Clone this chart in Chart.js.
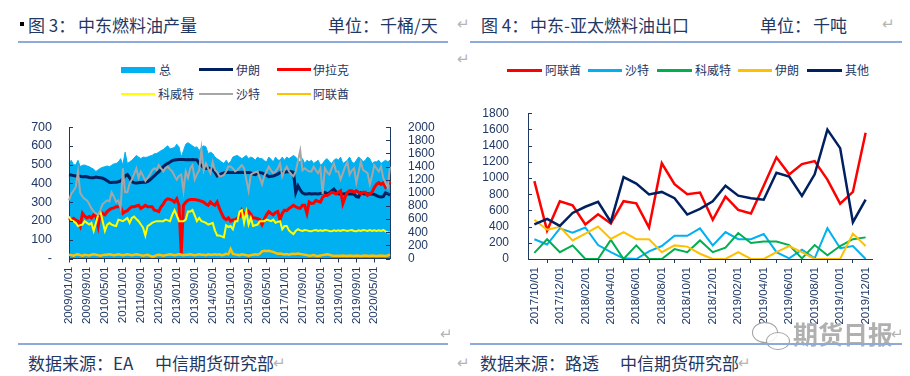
<!DOCTYPE html>
<html><head><meta charset="utf-8">
<script src="https://cdn.jsdelivr.net/npm/chart.js@4.4.0/dist/chart.umd.min.js"></script>
<style>
body{margin:0;width:910px;height:376px;background:#fff;position:relative;overflow:hidden;font-family:"Noto Sans CJK SC","Liberation Sans",sans-serif;color:#1F3864;}
.a{position:absolute;white-space:nowrap;}
.t{font-size:17px;line-height:20px;}
.rule{position:absolute;height:2px;background:#8EAADB;}
.pm{color:#b4b4b4;font-size:15px;line-height:20px;}
.lg{position:absolute;font-size:12px;line-height:16px;white-space:nowrap;}
.sw{position:absolute;}
canvas{position:absolute;}
.bub{position:absolute;border:1.5px solid #a0a0a0;border-radius:50%;background:rgba(255,255,255,0.85);}
</style></head>
<body>
<script>
// ---------- DATA ----------
function makeMonths(y, m, n){const out=[];for(let k=0;k<n;k++){const mm=m-1+k;const yy=y+Math.floor(mm/12);const mo=(mm%12)+1;out.push(yy+'/'+(mo<10?'0':'')+mo+'/01');}return out;}
const prodMonths = makeMonths(2009,1,144);
const prodSeriesNames = ['总','伊朗','伊拉克','科威特','沙特','阿联酋'];
const prodTotal = [
1447,1496,1430,1423,1496,1398,1420,1423,1410,1398,1380,1360,
1325,1350,1374,1390,1398,1410,1398,1420,1440,1447,1470,1521,
1423,1619,1447,1470,1496,1530,1570,1545,1521,1545,1540,1545,
1560,1570,1594,1600,1619,1643,1660,1692,1716,1667,1680,1692,
1741,1700,1545,1643,1741,1765,1740,1716,1692,1700,1643,1692,
1716,1700,1594,1619,1600,1545,1520,1496,1470,1447,1496,1447,
1472,1545,1560,1570,1545,1521,1545,1570,1521,1545,1530,1496,
1545,1521,1521,1490,1472,1545,1510,1472,1545,1500,1496,1545,
1496,1545,1520,1545,1570,1545,1496,1472,1521,1447,1496,1472,
1496,1447,1472,1496,1423,1447,1496,1521,1472,1447,1496,1521,
1496,1545,1447,1470,1496,1545,1472,1447,1496,1545,1521,1472,
1496,1545,1521,1447,1472,1472,1496,1447,1472,1496,1472,1496];
const prodIran = [
447,445,442,440,438,438,436,437,436,432,430,431,
434,432,430,428,422,414,406,405,406,407,409,414,
425,440,448,430,410,404,403,404,405,406,407,410,
418,430,440,452,462,475,490,500,507,515,522,525,
527,528,528,528,527,528,527,528,527,526,505,495,
485,480,482,480,475,460,440,445,452,456,458,460,
459,459,460,458,459,460,459,458,459,456,450,447,
455,458,456,450,445,436,438,440,445,450,458,460,
460,462,464,463,460,353,387,365,350,344,344,346,
344,345,345,344,346,350,353,345,350,360,370,355,
345,344,344,345,345,344,344,343,330,328,350,345,
344,345,344,344,342,335,330,328,330,350,345,338];
const prodIraq = [
216,207,214,205,199,173,241,225,216,224,216,233,
225,173,250,240,233,250,260,267,270,276,276,276,
241,250,255,267,276,276,280,284,267,275,284,276,
276,276,258,255,250,276,290,310,318,315,310,301,
318,284,27,284,300,310,315,315,315,312,310,305,
301,290,284,301,290,284,301,267,240,216,207,216,
199,205,207,215,224,258,240,233,250,235,216,216,
212,207,181,210,233,250,240,233,245,250,207,241,
258,255,267,275,284,276,270,267,284,284,241,301,
293,295,310,305,301,327,336,336,344,353,350,344,
353,361,293,327,353,361,361,353,361,353,344,353,
353,336,345,353,378,395,404,395,404,380,395,412];
const prodKuwait = [
224,205,199,190,173,178,181,199,190,181,190,147,
190,233,250,199,147,180,190,181,176,173,207,203,
199,207,216,190,216,224,210,199,181,164,122,173,
180,190,195,199,199,199,199,207,203,199,233,258,
230,199,199,199,207,250,250,258,230,199,216,199,
195,190,181,185,190,150,122,122,118,113,177,168,
173,156,199,199,250,258,190,250,181,216,173,177,
181,199,199,199,207,203,199,207,190,195,199,156,
173,173,150,139,130,147,156,150,147,152,150,147,
145,150,152,147,150,147,152,150,147,145,150,147,
150,147,152,150,147,150,152,147,145,150,147,152,
150,147,152,147,150,147,150,147,152,145,139,139];
const prodSaudi = [
310,345,361,380,464,350,330,318,310,290,267,250,
240,233,260,290,300,310,305,353,330,301,310,267,
481,353,353,400,421,450,481,430,464,440,413,430,
447,470,481,472,498,480,464,481,490,475,464,440,
421,440,447,361,464,430,480,498,421,450,470,583,
470,507,480,455,515,472,460,438,440,445,464,490,
490,480,464,472,485,498,481,420,361,447,455,460,
464,430,395,440,464,490,470,455,464,480,507,438,
470,490,464,450,438,464,520,575,470,481,472,464,
464,490,470,455,481,344,481,460,447,480,507,464,
464,421,455,490,515,447,470,481,404,460,515,472,
464,455,395,440,498,480,464,490,430,404,380,490];
const prodUAE = [
20,18,15,20,22,18,15,20,18,16,20,22,
20,18,15,18,20,20,22,20,18,20,22,20,
18,20,22,20,18,20,22,20,18,15,18,20,
15,10,12,18,20,18,15,18,20,22,20,18,
20,22,20,18,20,20,22,20,18,20,22,20,
20,18,22,20,20,22,20,22,18,20,25,22,
50,25,22,20,18,22,20,18,15,18,20,22,
20,25,38,41,40,41,38,35,30,25,26,24,
22,24,20,24,25,24,26,24,22,20,18,15,
16,18,15,14,16,18,20,22,20,16,15,14,
14,15,16,15,14,16,15,14,16,15,14,15,
16,15,14,16,15,14,15,16,15,14,16,22];
const leftTicksL = [0,100,200,300,400,500,600,700];
const leftTicksR = [0,200,400,600,800,1000,1200,1400,1600,1800,2000];

const expMonths = makeMonths(2017,10,27);
const expUAE    = [961,351,713,664,427,553,439,713,687,389,1182,923,801,820,484,770,606,561,904,1255,1045,1171,1209,980,683,828,1560];
const expSaudi  = [244,179,378,324,389,172,84,8,0,95,160,286,286,378,168,332,244,244,309,84,8,114,8,381,133,160,0];
const expKuwait = [76,244,84,168,0,0,236,0,168,0,0,122,84,229,84,141,320,198,217,217,172,8,172,46,160,244,267];
const expIran   = [484,362,397,229,313,400,248,332,244,244,84,168,153,65,0,0,84,0,0,84,160,84,0,0,0,313,160];
const expOther  = [427,496,408,568,645,706,458,1011,931,797,828,751,549,618,713,904,782,751,732,1064,1018,778,1045,1598,1369,454,732];
const rightTicks = [0,200,400,600,800,1000,1200,1400,1600,1800];
</script>

<!-- headers -->
<div class="a" style="left:20px;top:22px;width:4px;height:4px;background:#000;"></div>
<div class="a t" style="left:28px;top:15px;">图 3：</div>
<div class="a t" style="left:78px;top:15px;">中东燃料油产量</div>
<div class="a t" style="left:328px;top:15px;">单位：</div>
<div class="a t" style="left:380px;top:15px;">千桶/天</div>
<div class="rule" style="left:18px;top:41px;width:430px;"></div>

<div class="a pm" style="left:457px;top:13px;">↵</div>
<div class="a t" style="left:481px;top:15px;">图 4：</div>
<div class="a t" style="left:530px;top:15px;">中东-亚太燃料油出口</div>
<div class="a t" style="left:760px;top:15px;">单位：</div>
<div class="a t" style="left:813px;top:15px;">千吨</div>
<div class="a pm" style="left:882px;top:13px;">↵</div>
<div class="rule" style="left:470px;top:41px;width:432px;"></div>
<div class="a pm" style="left:457px;top:48px;">↵</div>

<!-- left legend -->
<div class="sw" style="left:121px;top:67px;width:34px;height:6px;background:#00B0F0;"></div>
<div class="lg" style="left:159px;top:62px;">总</div>
<div class="sw" style="left:199px;top:68px;width:34px;height:3px;background:#002060;"></div>
<div class="lg" style="left:236px;top:62px;">伊朗</div>
<div class="sw" style="left:277px;top:68px;width:34px;height:3px;background:#FF0000;"></div>
<div class="lg" style="left:313px;top:62px;">伊拉克</div>
<div class="sw" style="left:121px;top:93px;width:34px;height:2px;background:#FFFF00;"></div>
<div class="lg" style="left:158px;top:86px;">科威特</div>
<div class="sw" style="left:199px;top:93px;width:34px;height:2px;background:#A6A6A6;"></div>
<div class="lg" style="left:236px;top:86px;">沙特</div>
<div class="sw" style="left:277px;top:93px;width:34px;height:2px;background:#FFC000;"></div>
<div class="lg" style="left:313px;top:86px;">阿联酋</div>

<!-- right legend -->
<div class="sw" style="left:507px;top:69px;width:35px;height:3px;background:#FF0000;"></div>
<div class="lg" style="left:545px;top:62px;">阿联酋</div>
<div class="sw" style="left:588px;top:69px;width:34px;height:3px;background:#00B0F0;"></div>
<div class="lg" style="left:625px;top:62px;">沙特</div>
<div class="sw" style="left:657px;top:69px;width:35px;height:3px;background:#00B050;"></div>
<div class="lg" style="left:695px;top:62px;">科威特</div>
<div class="sw" style="left:738px;top:69px;width:34px;height:3px;background:#FFC000;"></div>
<div class="lg" style="left:775px;top:62px;">伊朗</div>
<div class="sw" style="left:807px;top:69px;width:35px;height:3px;background:#002060;"></div>
<div class="lg" style="left:845px;top:62px;">其他</div>

<!-- left chart: area layer below, line layer (with visible axes) above, identical layout -->
<canvas id="cLa" width="455" height="230" style="left:0;top:110px;width:455px;height:230px;"></canvas>
<canvas id="cL" width="455" height="230" style="left:0;top:110px;width:455px;height:230px;"></canvas>
<canvas id="cR" width="455" height="245" style="left:455px;top:95px;width:455px;height:245px;"></canvas>

<!-- watermark -->
<div class="bub" style="left:752px;top:322px;width:24px;height:19px;"></div>
<div class="bub" style="left:766px;top:332px;width:22px;height:16px;"></div>
<div class="a" style="left:793px;top:317px;font-size:25px;line-height:32px;font-weight:bold;color:#b0b0b0;">期货日报</div>
<div class="a pm" style="left:440px;top:323px;">↵</div>
<div class="a pm" style="left:891px;top:323px;">↵</div>

<!-- footers -->
<div class="rule" style="left:18px;top:343px;width:430px;"></div>
<div class="rule" style="left:470px;top:343px;width:432px;"></div>
<div class="a t" style="left:28px;top:353px;">数据来源：EA</div>
<div class="a t" style="left:155px;top:353px;">中信期货研究部</div>
<div class="a pm" style="left:273px;top:352px;">↵</div>
<div class="a pm" style="left:457px;top:352px;">↵</div>
<div class="a t" style="left:480px;top:353px;">数据来源：路透</div>
<div class="a t" style="left:620px;top:353px;">中信期货研究部</div>
<div class="a pm" style="left:738px;top:352px;">↵</div>

<script>
Chart.defaults.font.family = '"Liberation Sans", Arial, sans-serif';
Chart.defaults.color = '#1F3864';
const NAVY = '#1F3864';
const CLEAR = 'rgba(0,0,0,0)';
const lineDs = (label, data, color, w, axis, order) => ({label, data, borderColor:color, backgroundColor:color, borderWidth:w, pointRadius:0, fill:false, tension:0, yAxisID:axis, order});

const innerTicks = {
  id:'innerTicks',
  afterDraw(chart){
    const ctx = chart.ctx;
    ctx.save();
    ctx.strokeStyle = NAVY; ctx.lineWidth = 1;
    Object.values(chart.scales).forEach(s=>{
      if (s.axis !== 'y') return;
      const left = s.position === 'left';
      const x = left ? chart.chartArea.left : chart.chartArea.right;
      s.ticks.forEach(t=>{
        const y = Math.round(s.getPixelForValue(t.value)) + 0.5;
        ctx.beginPath();
        ctx.moveTo(x, y);
        ctx.lineTo(left ? x + 4 : x - 4, y);
        ctx.stroke();
      });
    });
    ctx.restore();
  }
};

function leftScales(visible){
  const col = visible ? NAVY : CLEAR;
  return {
    x:{type:'category', offset:false,
       grid:{display:visible, drawOnChartArea:false, drawTicks:true, tickLength:4, color:NAVY},
       border:{display:visible, color:NAVY, width:1},
       ticks:{autoSkip:false, maxRotation:90, minRotation:90, padding:4, color:col, font:{size:11.5},
              callback:(v,i)=> i%8===0 ? prodMonths[i] : null},
       afterFit:s=>{s.height=81.5;}},
    yL:{position:'left', min:0, max:700,
        afterBuildTicks:s=>{s.ticks=leftTicksL.map(v=>({value:v}));},
        ticks:{autoSkip:false, padding:9, color:col, font:{size:12.5}, callback:v=> v===0 ? '-' : String(v)},
        grid:{display:false}, border:{display:visible, color:NAVY, width:1},
        afterFit:s=>{s.width=69;}},
    yR:{position:'right', min:0, max:2000,
        afterBuildTicks:s=>{s.ticks=leftTicksR.map(v=>({value:v}));},
        ticks:{autoSkip:false, padding:10, color:col, font:{size:12}, callback:v=>String(v)},
        grid:{display:false}, border:{display:visible, color:NAVY, width:1},
        afterFit:s=>{s.width=65;}}
  };
}
const baseOpts = (scales) => ({
  responsive:false, animation:false, devicePixelRatio:1,
  layout:{padding:{left:0,right:0,top:12,bottom:0}, autoPadding:false},
  plugins:{legend:{display:false}, tooltip:{enabled:false}},
  scales
});

// area layer: 总 on the right axis
new Chart(document.getElementById('cLa'), {
  type:'line',
  data:{labels:prodMonths, datasets:[
    {label:prodSeriesNames[0], data:prodTotal, yAxisID:'yR', fill:'origin', backgroundColor:'#00B0F0', borderColor:'#00B0F0', borderWidth:1, pointRadius:0, tension:0}
  ]},
  options:baseOpts(leftScales(false))
});

// line layer with the visible axes
new Chart(document.getElementById('cL'), {
  type:'line',
  data:{labels:prodMonths, datasets:[
    lineDs(prodSeriesNames[1], prodIran, '#002060', 3, 'yL', 5),
    lineDs(prodSeriesNames[2], prodIraq, '#FF0000', 3, 'yL', 4),
    lineDs(prodSeriesNames[3], prodKuwait, '#FFFF00', 2, 'yL', 3),
    lineDs(prodSeriesNames[4], prodSaudi, '#A6A6A6', 2, 'yL', 2),
    lineDs(prodSeriesNames[5], prodUAE, '#FFC000', 2.5, 'yL', 1)
  ]},
  options:baseOpts(leftScales(true)),
  plugins:[innerTicks]
});

new Chart(document.getElementById('cR'), {
  type:'line',
  data:{labels:expMonths, datasets:[
    lineDs('阿联酋', expUAE, '#FF0000', 2.5, 'y', 5),
    lineDs('沙特', expSaudi, '#00B0F0', 2, 'y', 4),
    lineDs('科威特', expKuwait, '#00B050', 2, 'y', 3),
    lineDs('伊朗', expIran, '#FFC000', 2, 'y', 2),
    lineDs('其他', expOther, '#002060', 2.5, 'y', 1)
  ]},
  options:{
    responsive:false, animation:false, devicePixelRatio:1,
    layout:{padding:{left:0,right:38,top:7,bottom:0}, autoPadding:false},
    plugins:{legend:{display:false}, tooltip:{enabled:false}},
    scales:{
      x:{type:'category', offset:true,
         grid:{display:true, offset:true, drawOnChartArea:false, drawTicks:true, tickLength:4, color:NAVY},
         border:{display:true, color:NAVY, width:1},
         ticks:{autoSkip:false, maxRotation:90, minRotation:90, padding:4, color:NAVY, font:{size:11.5},
                callback:(v,i)=> i%2===0 ? expMonths[i] : null},
         afterFit:s=>{s.height=81;}},
      y:{position:'left', min:0, max:1800,
         afterBuildTicks:s=>{s.ticks=rightTicks.map(v=>({value:v}));},
         ticks:{autoSkip:false, padding:11, color:NAVY, font:{size:12}, callback:v=>String(v)},
         grid:{display:false}, border:{display:true, color:NAVY, width:1},
         afterFit:s=>{s.width=73;}}
    }
  },
  plugins:[innerTicks]
});
</script>
</body></html>
